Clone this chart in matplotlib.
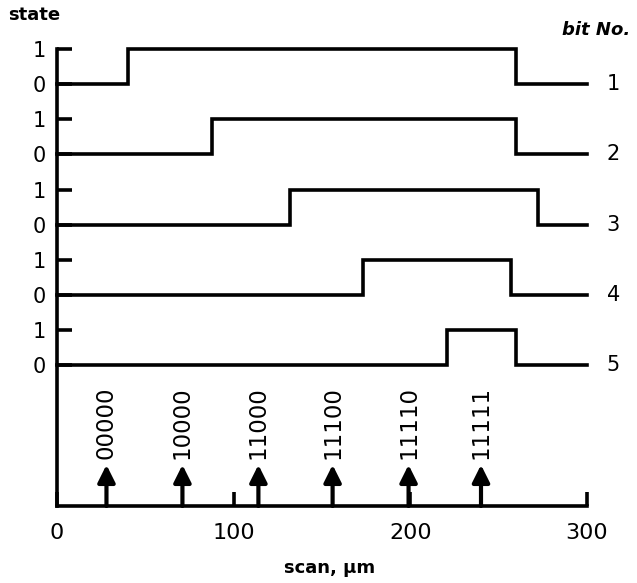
import matplotlib
matplotlib.use("Agg")
from matplotlib import pyplot as plt

# bit traces: scan position (um) where each bit switches 0 -> 1 and 1 -> 0
bits = [1, 2, 3, 4, 5]
rise_um = [40, 88, 132, 173, 221]
fall_um = [260, 260, 272, 257, 260]

# read-out positions and the codes found there
arrow_um = [28, 71, 114, 156, 199, 240]
codes = ['00000', '10000', '11000', '11100', '11110', '11111']

x_ticks = [0, 100, 200, 300]
scan_end = 300

W, H = 637, 583
fig = plt.figure(figsize=(W / 100, H / 100), dpi=100)
# axes box in pixels: x 57..587, y 49..506
ax = fig.add_axes([57 / W, (H - 506) / H, 530 / W, 457 / H])
ax.set_xlim(0, 300)
ax.set_ylim(0, 13)

lw = 2.6
y_pos = []
y_lab = []
for b, r, f in zip(bits, rise_um, fall_um):
    base = 12 - 2 * (b - 1)
    xs = [0, r, r, f, f, scan_end]
    ys = [base, base, base + 1, base + 1, base, base]
    ax.plot(xs, ys, color='black', lw=lw, solid_joinstyle='miter', clip_on=False)
    y_pos += [base, base + 1]
    y_lab += ['0', '1']
    ax.text(315, base, str(b), ha='center', va='center', fontsize=15)

for x, c in zip(arrow_um, codes):
    ax.annotate('', xy=(x, 1.17), xytext=(x, 0),
                arrowprops=dict(arrowstyle='-|>', lw=3, color='black',
                                mutation_scale=26, shrinkA=0, shrinkB=0))
    ax.text(x, 1.33, c, rotation=90, ha='center', va='bottom', fontsize=16.5)

ax.spines['top'].set_visible(False)
ax.spines['right'].set_visible(False)
ax.spines['left'].set_linewidth(lw)
ax.spines['bottom'].set_linewidth(lw)

ax.set_yticks(y_pos)
ax.set_yticklabels(y_lab)
ax.set_xticks(x_ticks)
ax.tick_params(axis='y', direction='in', length=11, width=lw, pad=8, labelsize=15)
ax.tick_params(axis='x', direction='in', length=10, width=lw, pad=12, labelsize=16)

fig.text(8 / W, 1 - 15 / H, 'state', ha='left', va='center', fontsize=13, fontweight='bold')
fig.text(630 / W, 1 - 30 / H, 'bit No.', ha='right', va='center', fontsize=13,
         fontweight='bold', style='italic')
fig.text(330 / W, 1 - 568 / H, 'scan, \u00b5m', ha='center', va='center', fontsize=13,
         fontweight='bold')

fig.savefig('out.png', dpi=100)
